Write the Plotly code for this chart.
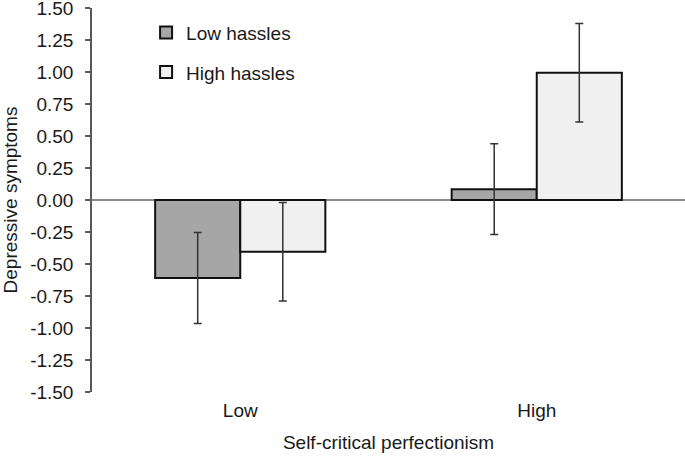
import plotly.graph_objects as go

categories = ["Low", "High"]
low_hassles = [-0.61, 0.085]
low_err = [0.355, 0.355]
high_hassles = [-0.405, 0.995]
high_err = [0.385, 0.385]
y_ticks = [-1.5, -1.25, -1.0, -0.75, -0.5, -0.25, 0.0, 0.25, 0.5, 0.75, 1.0, 1.25, 1.5]
y_ticktext = ["%.2f" % v for v in y_ticks]

FONT = "Liberation Sans, Arial, sans-serif"
FS = 19

fig = go.Figure()
fig.add_trace(go.Bar(
    x=categories, y=low_hassles, name="Low hassles", legendgroup="a",
    marker=dict(color="#A6A6A6", line=dict(color="#111111", width=2)),
    error_y=dict(type="data", array=low_err, color="#333333", thickness=1.5, width=4),
))
fig.add_trace(go.Bar(
    x=categories, y=high_hassles, name="High hassles", legendgroup="b",
    marker=dict(color="#F0F0F0", line=dict(color="#111111", width=2)),
    error_y=dict(type="data", array=high_err, color="#333333", thickness=1.5, width=4),
))

fig.update_layout(
    width=685, height=456,
    margin=dict(l=92, r=0, t=8, b=64, autoexpand=False),
    paper_bgcolor="white", plot_bgcolor="white",
    barmode="group", bargap=0.426, bargroupgap=0,
    font=dict(family=FONT, size=FS, color="#1a1a1a"),
    legend=dict(x=0.0912, y=0.9856, xanchor="left", yanchor="top",
                bgcolor="rgba(0,0,0,0)", tracegroupgap=12, itemwidth=30,
                font=dict(family=FONT, size=FS, color="#1a1a1a")),
    xaxis=dict(showline=False, ticks="", showgrid=False, zeroline=False,
               automargin=False, ticklabelstandoff=5,
               title=dict(text="Self-critical perfectionism", standoff=15,
                          font=dict(size=FS)),
               tickfont=dict(size=FS)),
    yaxis=dict(range=[-1.501, 1.501], tickvals=y_ticks, ticktext=y_ticktext,
               automargin=False, ticklabeloverflow="allow",
               showgrid=False, showline=True, linecolor="#595959", linewidth=1.5,
               ticks="outside", ticklen=5, tickcolor="#595959", tickwidth=1.5,
               ticklabelstandoff=8,
               zeroline=True, zerolinecolor="#8c8c8c", zerolinewidth=1.5,
               title=dict(text="Depressive symptoms", standoff=10, font=dict(size=FS)),
               tickfont=dict(size=FS)),
)

fig.write_html("out.html", config={"displayModeBar": False},
               post_script="document.body.style.margin='0';")
